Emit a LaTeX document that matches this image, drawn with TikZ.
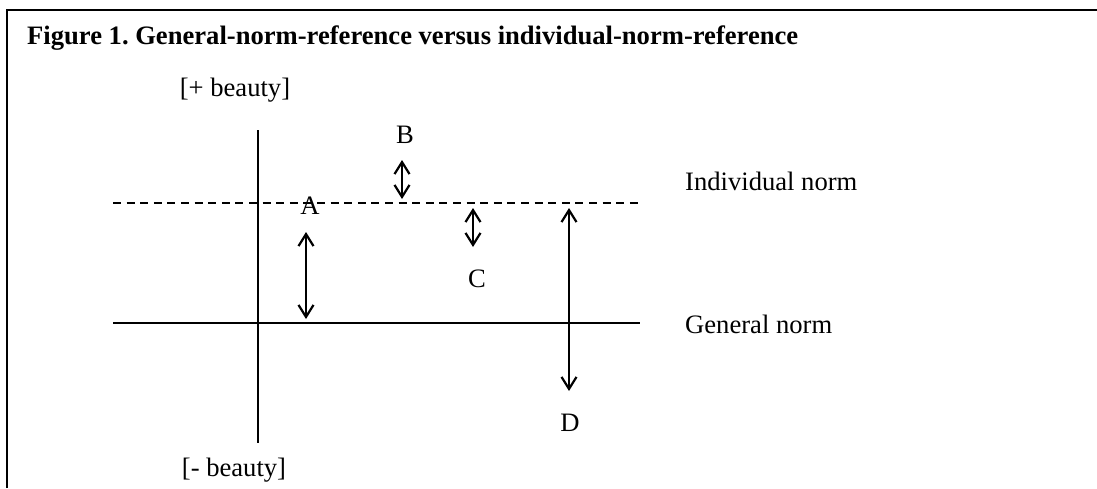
\documentclass[tikz,border=0pt]{standalone}
\usepackage{fontspec}
\setmainfont{Liberation Serif}
\usetikzlibrary{arrows.meta}
\frenchspacing
\begin{document}
\begin{tikzpicture}[x=1pt,y=-1pt,
  lbl/.style={inner sep=0pt,anchor=base,font=\fontsize{26.6}{30}\selectfont},
  lblw/.style={lbl,anchor=base west},
  ttl/.style={inner sep=0pt,anchor=base west,font=\fontsize{26.6}{30}\selectfont\bfseries},
  ln/.style={line width=2.2pt},
  dashln/.style={line width=2.2pt,dash pattern=on 8pt off 5.6pt},
  dbl/.style={line width=2.2pt,{Straight Barb[length=12pt,width=15pt]}-{Straight Barb[length=12pt,width=15pt]}}
]
\useasboundingbox (0,0) rectangle (1097,488);
% frame
\coordinate (fbl) at (7,488);
\coordinate (ftl) at (7,10);
\coordinate (ftr) at (1097,10);
\draw[ln] (fbl) -- (ftl) -- (ftr);
% title
\node[ttl] (title) at (27,44) {Figure 1. General-norm-reference versus individual-norm-reference};
% labels
\node[lbl] (plus) at (235,96) {[+ beauty]};
\node[lbl] (minus) at (234,476) {[- beauty]};
\node[lblw] (indiv) at (685,190) {Individual norm};
\node[lblw] (gen) at (685,333) {General norm};
\node[lbl] (la) at (310,214) {A};
\node[lbl] (lb) at (405,143) {B};
\node[lbl] (lc) at (477,287) {C};
\node[lbl] (ld) at (570,431) {D};
% axes
\coordinate (vt) at (258,130);
\coordinate (vb) at (258,443);
\draw[ln] (vt) -- (vb);
\coordinate (dl) at (113,203);
\coordinate (dr) at (640,203);
\draw[dashln] (dl) -- (dr);
\coordinate (gl) at (113,323);
\coordinate (gr) at (640,323);
\draw[ln] (gl) -- (gr);
% arrows
\coordinate (at) at (306,232);
\coordinate (ab) at (306,319);
\draw[dbl] (at) -- (ab);
\coordinate (bt) at (402,160);
\coordinate (bb) at (402,199);
\draw[dbl] (bt) -- (bb);
\coordinate (ct) at (473,208);
\coordinate (cb) at (473,247);
\draw[dbl] (ct) -- (cb);
\coordinate (dt) at (569,208);
\coordinate (db) at (569,391);
\draw[dbl] (dt) -- (db);
\end{tikzpicture}
\end{document}
